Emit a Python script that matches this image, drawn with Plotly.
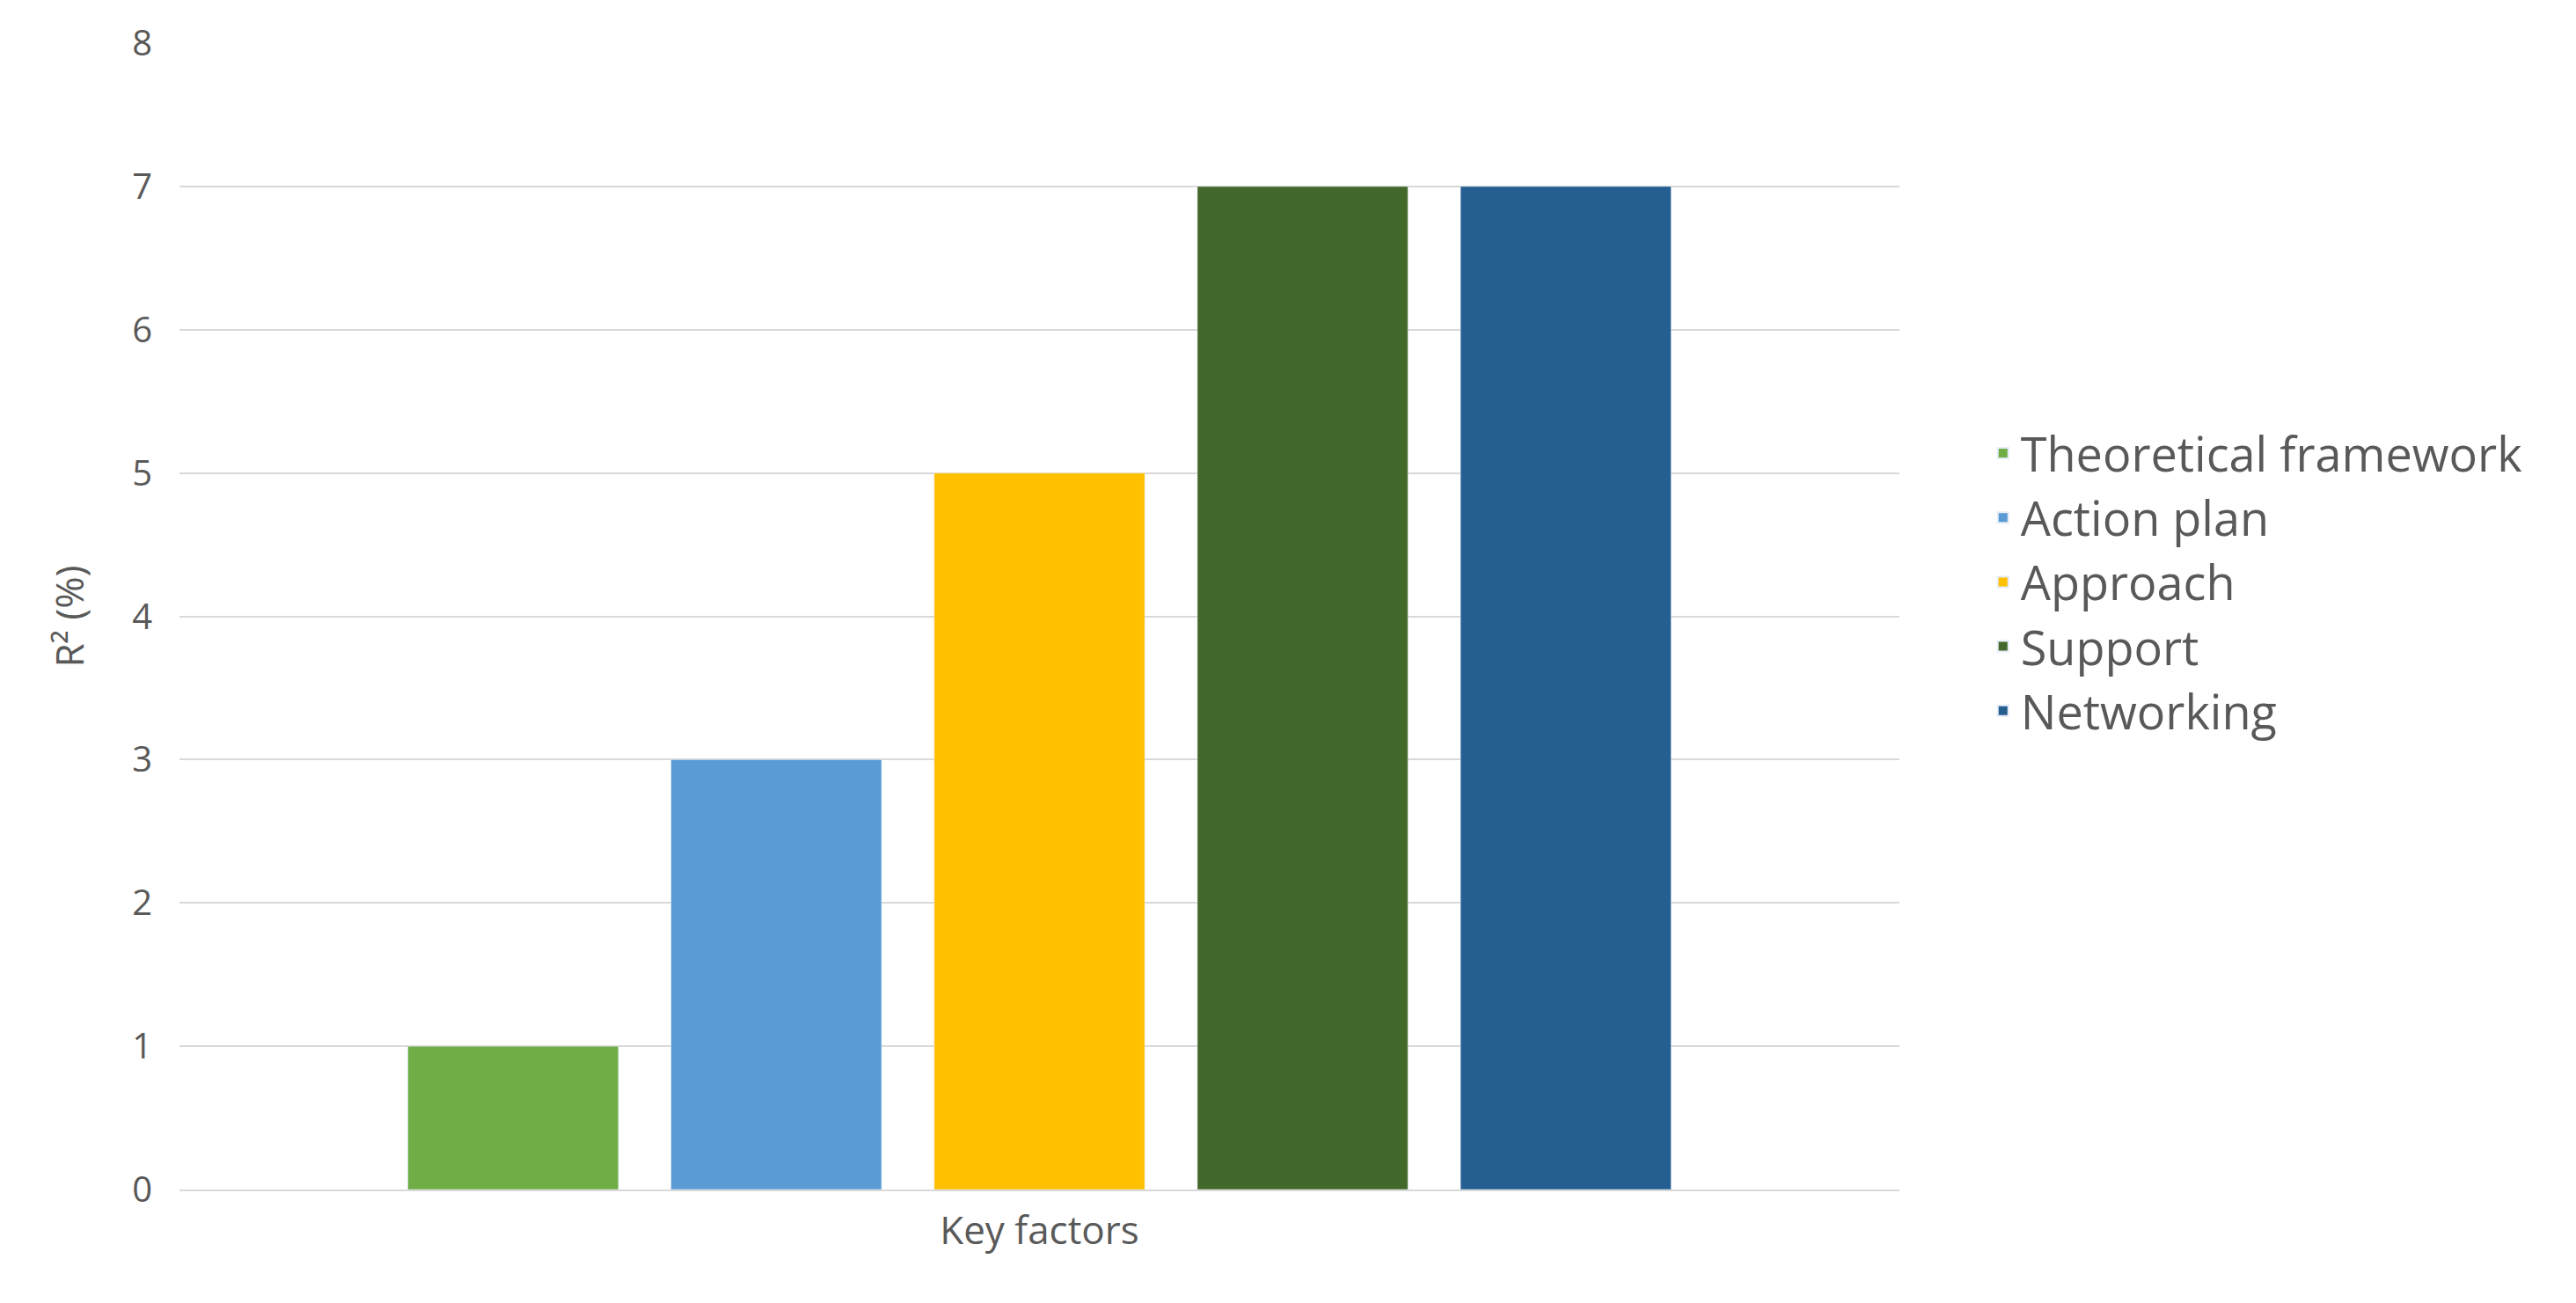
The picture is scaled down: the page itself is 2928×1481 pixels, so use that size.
import plotly.graph_objects as go

factors = ["Theoretical framework", "Action plan", "Approach", "Support", "Networking"]
values = [1, 3, 5, 7, 7]
colors = ["#70AD47", "#5B9BD5", "#FFC000", "#43682B", "#255E91"]
category = ["Key factors"]

fig = go.Figure()
for name, val, col in zip(factors, values, colors):
    fig.add_trace(go.Bar(x=category, y=[val], name=name, marker_color=col, legendgroup=name))

fig.update_layout(
    width=2928, height=1481,
    paper_bgcolor="white", plot_bgcolor="white",
    font=dict(family="Open Sans, Liberation Sans, sans-serif", color="#595959", size=40),
    barmode="group", bargap=0.235, bargroupgap=0.2,
    margin=dict(l=196, r=777, t=41, b=137),
    legend=dict(x=1.05, y=0.53, yanchor="middle", font=dict(size=54), itemsizing="constant",
                tracegroupgap=50, traceorder="normal"),
    xaxis=dict(showticklabels=False, title=dict(text="Key factors", font=dict(size=44), standoff=30),
               showline=True, linecolor="#D9D9D9", linewidth=2),
    yaxis=dict(range=[0, 8], dtick=1, gridcolor="#D9D9D9", gridwidth=2, zeroline=False,
               title=dict(text="R² (%)", font=dict(size=44), standoff=40), ticklabelstandoff=30),
)
fig.write_html("out.html")
